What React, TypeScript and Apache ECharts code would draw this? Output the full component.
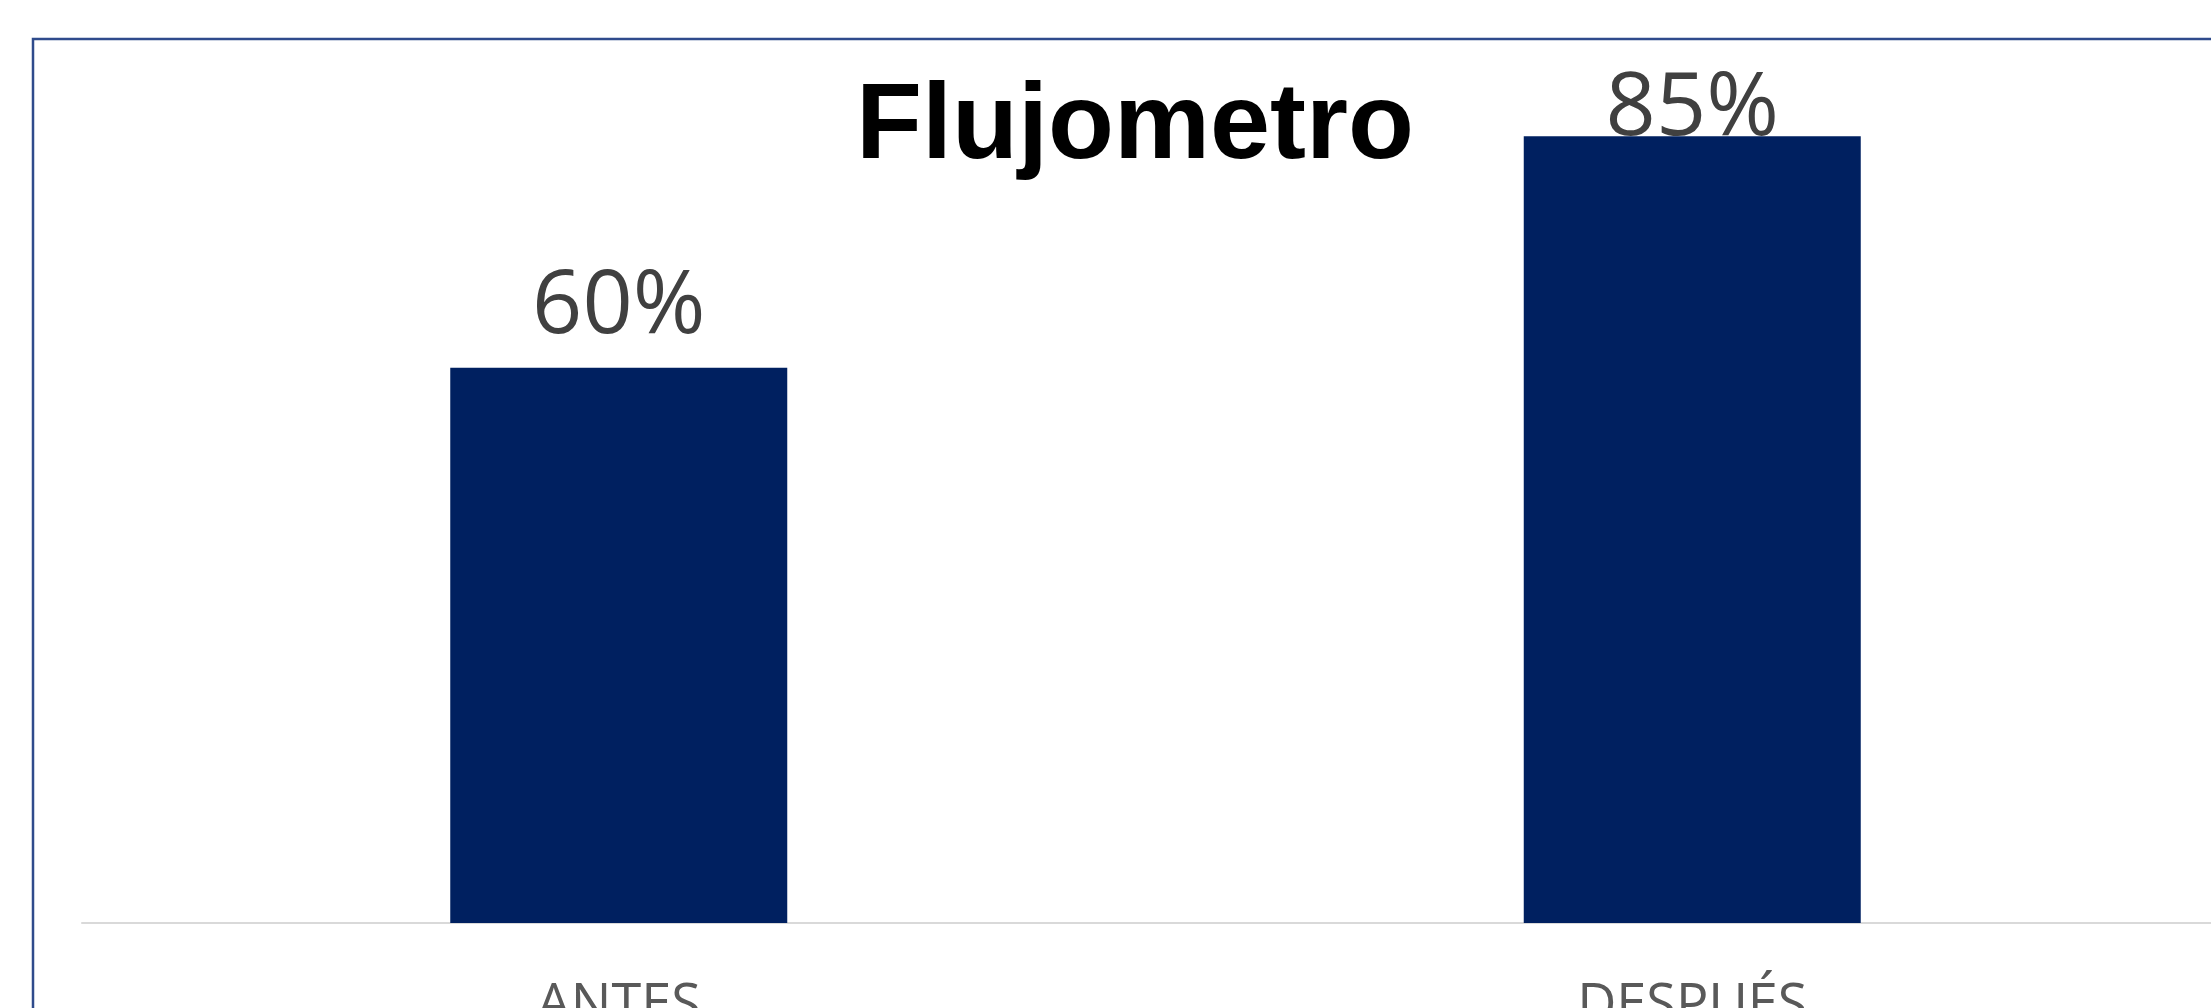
import React, { useEffect, useRef } from "react";
import * as echarts from "echarts";

const categories: string[] = ["ANTES", "DESPUÉS"];
const values: number[] = [60, 85];
const titleText = "Flujometro";

// label placement styling (not data)
const labelDistances: number[] = [25, -9];

export default function App() {
  const ref = useRef<HTMLDivElement>(null);

  useEffect(() => {
    if (!ref.current) return;
    const chart = echarts.init(ref.current, undefined, { renderer: "svg" });
    chart.setOption({
      animation: false,
      backgroundColor: "#ffffff",
      grid: {
        left: 82,
        right: 11,
        top: 90,
        bottom: 85,
        containLabel: false,
        outerBoundsMode: "none",
      },
      xAxis: {
        type: "category",
        data: categories,
        axisLine: { show: true, lineStyle: { color: "#d9d9d9", width: 2 } },
        axisTick: { show: false },
        axisLabel: {
          margin: 51,
          fontFamily: "Open Sans",
          fontSize: 54,
          color: "#595959",
        },
      },
      yAxis: {
        type: "value",
        min: 0,
        max: 90,
        show: false,
      },
      series: [
        {
          type: "bar",
          barWidth: 337,
          itemStyle: { color: "#002060" },
          data: values.map((v, i) => ({
            value: v,
            label: { distance: labelDistances[i] },
          })),
          label: {
            show: true,
            position: "top",
            formatter: "{c}%",
            fontFamily: "Open Sans",
            fontSize: 88,
            color: "#404040",
          },
        },
      ],
      graphic: [
        {
          type: "rect",
          shape: { x: 33, y: 39, width: 2400, height: 1200 },
          style: { fill: "none", stroke: "#2F4B8C", lineWidth: 2.5 },
          silent: true,
        },
        {
          type: "text",
          x: 1135,
          y: 120,
          style: {
            text: titleText,
            fontFamily: "Liberation Sans, Arial, sans-serif",
            fontWeight: "bold",
            fontSize: 108,
            fill: "#000000",
            textAlign: "center",
            textVerticalAlign: "middle",
          },
        },
      ],
    });
    return () => chart.dispose();
  }, []);

  return (
    <div
      style={{
        position: "fixed",
        left: 0,
        top: 0,
        width: 2211,
        height: 1008,
        overflow: "hidden",
        background: "#ffffff",
      }}
    >
      <div ref={ref} style={{ width: 2240, height: 1008 }} />
    </div>
  );
}
